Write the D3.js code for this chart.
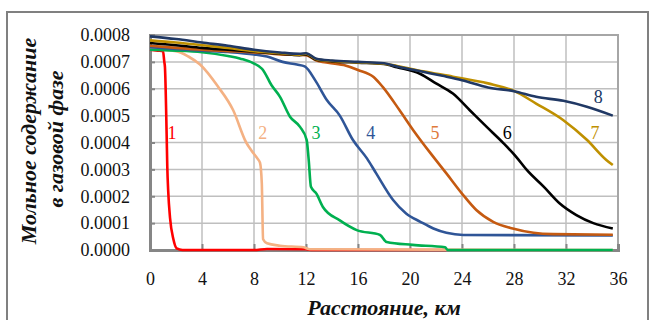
<!DOCTYPE html>
<html>
<head>
<meta charset="utf-8">
<script src="https://cdn.jsdelivr.net/npm/d3@7"></script>
<style>
  body { margin: 0; background: #fff; }
  svg { display: block; }
  .tick-lbl { font-family: "Liberation Serif", "DejaVu Serif", serif; font-size: 18px; fill: #111; }
  .ttl { font-family: "Liberation Serif", "DejaVu Serif", serif; font-size: 22px; font-weight: bold; font-style: italic; fill: #111; }
  .num { font-family: "Liberation Serif", "DejaVu Serif", serif; font-size: 18px; }
</style>
</head>
<body>
<div id="chart"></div>
<script>
// x tick values (km) and y tick values (mole fraction)
var xTicks = [0, 4, 8, 12, 16, 20, 24, 28, 32, 36];
var yTicks = [0, 0.0001, 0.0002, 0.0003, 0.0004, 0.0005, 0.0006, 0.0007, 0.0008];

var seriesNames = ["1", "2", "3", "4", "5", "6", "7", "8"];
var seriesColors = ["#ff0000", "#f4b183", "#00b050", "#2f5597", "#c55a11", "#000000", "#bf9000", "#203864"];
var labelColors = ["#ff0000", "#f4b183", "#00b050", "#2f5597", "#e07a3a", "#000000", "#bf9000", "#203864"];

// [km, value] pairs
var s1 = [[0,0.000745],[0.6,0.000742],[1.0,0.00074],[1.1,0.0007],[1.15,0.00068],[1.28,0.00043],[1.33,0.00031],[1.4,0.00022],
  [1.54,0.00012],[1.8,0.00004],[2.05,0.000006],[2.5,0],[8,0],[9,0.000004],[12,0.000003],[12.5,0],[22.8,0]];
var s2 = [[0,0.000748],[2,0.00074],[2.95,0.00072],[3.85,0.00069],[5.2,0.00061],[6.4,0.00052],[7.4,0.0004],[7.8,0.00037],
  [8.3,0.000338],[8.46,0.000325],[8.6,0.000248],[8.7,0.00004],[9.0,0.000025],[10,0.000016],[11.8,0.00001],[12.3,0.000003],[35.6,0]];
var s3 = [[0,0.000745],[2,0.000742],[4,0.000736],[6,0.000722],[6.9,0.000713],[8.6,0.000675],[9.35,0.000613],[10,0.00057],
  [10.77,0.000496],[11.54,0.000458],[12.05,0.00041],[12.2,0.00034],[12.38,0.000235],[12.8,0.00021],[13.3,0.00016],
  [14.6,0.00011],[15.9,0.000074],[17.7,0.000056],[18.2,0.00003],[20.2,0.000019],[22.7,0.00001],[22.9,0],[35.6,0]];
var s4 = [[0,0.000755],[2,0.000748],[4,0.000742],[6,0.000737],[8,0.000728],[9,0.00072],[10.2,0.0007],[11.3,0.00069],
  [11.9,0.000683],[12.7,0.000632],[13.6,0.000558],[14.6,0.0005],[15.6,0.00041],[16.7,0.00034],[17.4,0.000285],
  [18.7,0.000186],[19.7,0.000136],[20.8,0.000105],[21.8,0.00008],[22.8,0.000064],[24.1,0.000056],[35.6,0.000054]];
var s5 = [[0,0.00076],[2,0.000752],[4,0.000745],[6,0.00074],[8,0.000735],[10,0.000728],[12,0.000725],[12.8,0.000705],
  [14.9,0.000688],[16,0.00067],[17.2,0.000644],[17.9,0.000607],[19.2,0.00052],[20.25,0.000446],[21.5,0.000365],
  [22.8,0.000285],[24,0.00021],[25.1,0.000149],[26.4,0.000105],[27.9,0.00008],[29.5,0.000064],[31,0.000059],[35.6,0.000057]];
var s6 = [[0,0.00077],[2,0.000762],[4,0.000752],[6,0.000745],[8,0.000738],[10,0.00073],[11.5,0.000725],[12,0.000728],
  [12.8,0.000708],[14,0.000702],[16,0.000697],[18,0.000692],[19,0.00068],[20.8,0.000655],[22,0.00062],[23.3,0.000582],
  [24.6,0.00052],[25.9,0.000458],[27.2,0.000397],[28.2,0.000345],[29,0.000297],[30.3,0.000235],[31.5,0.000174],
  [32.8,0.00013],[34.1,0.0001],[35.6,0.00008]];
var s7 = [[0,0.00078],[2,0.000772],[4,0.000762],[6,0.000752],[8,0.00074],[10,0.000732],[11.5,0.000727],[12,0.00073],
  [12.8,0.00071],[14,0.000703],[16,0.000698],[18,0.000693],[19,0.000685],[21,0.000665],[23.3,0.000645],[26,0.00062],
  [28,0.000592],[29.7,0.000545],[31.8,0.000483],[33.6,0.00041],[35.1,0.000335],[35.6,0.000316]];
var s8 = [[0,0.000795],[2,0.000785],[4,0.000772],[6,0.00076],[8,0.000745],[10,0.000735],[11.5,0.00073],[12,0.000732],
  [12.8,0.000712],[14,0.000705],[16,0.0007],[18,0.000695],[19,0.000683],[21,0.000663],[22.5,0.000648],[24,0.000632],
  [26,0.000605],[28,0.000591],[29.7,0.00057],[31.8,0.000555],[33.6,0.000533],[35.6,0.0005]];
var allSeries = [s1, s2, s3, s4, s5, s6, s7, s8];

// curve labels: [km, value]
var labelPos = [[1.7,0.000435],[8.67,0.000435],[12.77,0.000435],[16.98,0.000435],[21.92,0.000435],[27.49,0.000435],[34.23,0.000435],[34.48,0.00057]];

//////////////////////////////////////////////////////////////////////////////

var W = 649, H = 320;
var svg = d3.select("#chart").append("svg").attr("width", W).attr("height", H);

// outer frame
svg.append("rect")
  .attr("x", 7).attr("y", 12).attr("width", 641).attr("height", 330)
  .attr("fill", "none").attr("stroke", "#808080").attr("stroke-width", 2);

var x = d3.scaleLinear().domain([0, 36]).range([150, 618]);
var y = d3.scaleLinear().domain([0, 0.0008]).range([250, 35]);

// grid
svg.append("g").selectAll("line").data(xTicks.slice(1, -1)).enter().append("line")
  .attr("x1", function(d){ return x(d); }).attr("x2", function(d){ return x(d); })
  .attr("y1", y(0)).attr("y2", y(0.0008))
  .attr("stroke", "#bfbfbf").attr("stroke-width", 1.5);
svg.append("g").selectAll("line").data(yTicks.slice(1, -1)).enter().append("line")
  .attr("x1", x(0)).attr("x2", x(36))
  .attr("y1", function(d){ return y(d); }).attr("y2", function(d){ return y(d); })
  .attr("stroke", "#bfbfbf").attr("stroke-width", 1.5);

// plot border (top, right lighter)
svg.append("rect")
  .attr("x", x(0)).attr("y", y(0.0008)).attr("width", x(36) - x(0)).attr("height", y(0) - y(0.0008))
  .attr("fill", "none").attr("stroke", "#a6a6a6").attr("stroke-width", 2);

// axes
var xAxis = d3.axisBottom(x).tickValues(xTicks).tickSize(-6).tickPadding(22).tickFormat(d3.format("d"));
var yAxis = d3.axisLeft(y).tickValues(yTicks).tickSize(-5).tickPadding(20).tickFormat(d3.format(".4f"));

var gx = svg.append("g").attr("transform", "translate(0," + y(0) + ")").call(xAxis);
var gy = svg.append("g").attr("transform", "translate(" + x(0) + ",0)").call(yAxis);
[gx, gy].forEach(function(g){
  g.select(".domain").attr("stroke", "#868686").attr("stroke-width", 3);
  g.selectAll(".tick line").attr("stroke", "#868686").attr("stroke-width", 2);
  g.selectAll(".tick text").attr("class", "tick-lbl").attr("fill", "#111");
});

// series lines
var line = d3.line()
  .x(function(d){ return x(d[0]); })
  .y(function(d){ return y(d[1]); })
  .curve(d3.curveMonotoneX);

svg.append("g").selectAll("path").data(allSeries).enter().append("path")
  .attr("d", line)
  .attr("fill", "none")
  .attr("stroke", function(d, i){ return seriesColors[i]; })
  .attr("stroke-width", 2.6)
  .attr("stroke-linejoin", "round");

// curve numbers
svg.append("g").selectAll("text").data(labelPos).enter().append("text")
  .attr("class", "num")
  .attr("x", function(d){ return x(d[0]); })
  .attr("y", function(d){ return y(d[1]); })
  .attr("text-anchor", "middle")
  .attr("dominant-baseline", "central")
  .attr("fill", function(d, i){ return labelColors[i]; })
  .text(function(d, i){ return seriesNames[i]; });

// titles
svg.append("text").attr("class", "ttl")
  .attr("x", 384).attr("y", 315).attr("text-anchor", "middle")
  .text("Расстояние,  км");

svg.append("text").attr("class", "ttl")
  .attr("transform", "translate(36,141) rotate(-90)")
  .attr("text-anchor", "middle")
  .text("Мольное содержание");
svg.append("text").attr("class", "ttl")
  .attr("transform", "translate(63,139) rotate(-90)")
  .attr("text-anchor", "middle")
  .text("в газовой фазе");
</script>
</body>
</html>
